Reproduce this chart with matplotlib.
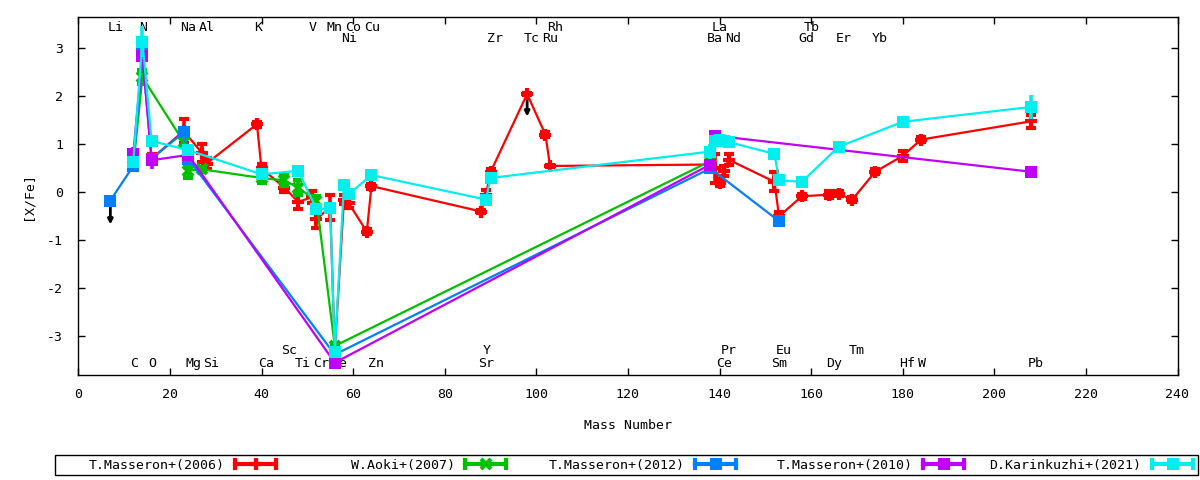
import matplotlib
matplotlib.use('Agg')
import matplotlib.pyplot as plt
from matplotlib.lines import Line2D
from matplotlib.patches import Rectangle
from matplotlib.legend_handler import HandlerBase
from matplotlib.container import ErrorbarContainer

plt.rcParams['font.family'] = ['DejaVu Sans Mono', 'DejaVu Sans']
plt.rcParams['font.size'] = 9.5
plt.rcParams['axes.unicode_minus'] = False

# ---------------- data ----------------
# T.Masseron+(2006)
red_A = [16, 23, 27, 28, 39, 40, 45, 48, 51, 52, 55, 56, 58, 59, 63, 64,
         88, 89, 90, 98, 102, 103, 138, 139, 140, 141, 142, 152, 153, 158,
         164, 166, 169, 174, 180, 184, 208]
red_V = [0.70, 1.28, 0.82, 0.60, 1.42, 0.50, 0.10, -0.20, -0.10, -0.55, -0.32, -3.30,
         -0.15, -0.22, -0.82, 0.13, -0.40, -0.05, 0.42, 2.05, 1.20, 0.55, 0.58,
         0.50, 0.20, 0.45, 0.68, 0.22, -0.50, -0.08, -0.05, -0.03, -0.15, 0.43,
         0.76, 1.10, 1.48]
red_E = [0.10, 0.25, 0.18, 0.12, 0.05, 0.10, 0.10, 0.15, 0.12, 0.20, 0.26, 0.05,
         0.10, 0.10, 0.05, 0.05, 0.03, 0.10, 0.06, 0.03, 0.05, 0.03, 0.05,
         0.30, 0.07, 0.10, 0.12, 0.20, 0.10, 0.05, 0.07, 0.05, 0.05, 0.05,
         0.10, 0.05, 0.13]

# W.Aoki+(2007)
green_A = [12, 14, 23, 24, 27, 40, 45, 48, 52, 56, 138]
green_V = [0.55, 2.40, 1.05, 0.45, 0.48, 0.30, 0.25, 0.10, -0.18, -3.20, 0.65]
green_E = [0.08, 0.15, 0.10, 0.15, 0.05, 0.10, 0.12, 0.15, 0.10, 0.05, 0.05]

# T.Masseron+(2012)
blue_A = [7, 12, 14, 16, 23, 24, 56, 138, 153]
blue_V = [-0.17, 0.55, 2.90, 0.70, 1.25, 0.70, -3.38, 0.50, -0.60]
blue_E = [0.00, 0.05, 0.15, 0.05, 0.05, 0.05, 0.05, 0.05, 0.05]

# T.Masseron+(2010)
purple_A = [12, 14, 16, 24, 56, 138, 139, 208]
purple_V = [0.80, 2.85, 0.67, 0.78, -3.55, 0.58, 1.18, 0.43]
purple_E = [0.15, 0.20, 0.18, 0.05, 0.05, 0.05, 0.05, 0.05]

# D.Karinkuzhi+(2021)
cyan_A = [12, 14, 16, 24, 40, 48, 52, 55, 56, 58, 59, 64, 89, 90,
          138, 139, 140, 141, 142, 152, 153, 158, 166, 180, 208]
cyan_V = [0.64, 3.14, 1.07, 0.88, 0.375, 0.45, -0.35, -0.33, -3.32, 0.15, -0.04, 0.36,
          -0.15, 0.30, 0.85, 1.08, 1.10, 1.08, 1.05, 0.80, 0.25, 0.22, 0.95, 1.47, 1.78]
cyan_E = [0.10, 0.32, 0.12, 0.10, 0.05, 0.05, 0.05, 0.05, 0.10, 0.05, 0.05, 0.05,
          0.12, 0.05, 0.15, 0.05, 0.05, 0.05, 0.05, 0.08, 0.10, 0.10, 0.05, 0.08, 0.25]

series_names = ['T.Masseron+(2006)', 'W.Aoki+(2007)', 'T.Masseron+(2012)',
                'T.Masseron+(2010)', 'D.Karinkuzhi+(2021)']

# upper limits (mass, value, arrow length)
limit_A = [7, 98]
limit_V = [-0.17, 2.05]
limit_len = [0.50, 0.47]

# element labels
top1_sym = ['Li', 'N', 'Na', 'Al', 'K', 'V', 'Mn', 'Co', 'Cu', 'Rh', 'La', 'Tb']
top1_A = [7, 14, 23, 27, 39, 51, 55, 59, 63, 103, 139, 159]
top2_sym = ['Ni', 'Zr', 'Tc', 'Ru', 'Ba', 'Nd', 'Gd', 'Er', 'Yb']
top2_A = [58, 90, 98, 102, 138, 142, 158, 166, 174]
bot2_sym = ['Sc', 'Y', 'Pr', 'Eu', 'Tm']
bot2_A = [45, 89, 141, 153, 169]
bot1_sym = ['C', 'O', 'Mg', 'Si', 'Ca', 'Ti', 'Cr', 'Fe', 'Zn', 'Sr', 'Ce', 'Sm',
            'Dy', 'Hf', 'W', 'Pb']
bot1_A = [12, 16, 24, 28, 40, 48, 52, 56, 64, 88, 140, 152, 164, 180, 184, 208]

x_ticks = [0, 20, 40, 60, 80, 100, 120, 140, 160, 180, 200, 220, 240]
y_ticks = [-3, -2, -1, 0, 1, 2, 3]

# ---------------- plot ----------------
W, H = 1200, 480
fig = plt.figure(figsize=(12, 4.8), dpi=100)
ax = fig.add_axes([0.06525, 0.21875, 0.916, 0.745])

styles = [
    dict(color='#ff0000', marker='+', ms=9, mew=3),
    dict(color='#00c000', marker='x', ms=7, mew=3),
    dict(color='#0080ff', marker='s', ms=8.5, mew=0),
    dict(color='#c000ff', marker='s', ms=8.5, mew=0),
    dict(color='#00eeee', marker='s', ms=8.5, mew=0),
]
data = [(red_A, red_V, red_E), (green_A, green_V, green_E), (blue_A, blue_V, blue_E),
        (purple_A, purple_V, purple_E), (cyan_A, cyan_V, cyan_E)]

containers = []
for i, ((A, V, E), st, name) in enumerate(zip(data, styles, series_names)):
    c = ax.errorbar(A, V, yerr=E, color=st['color'], lw=1.6, elinewidth=2.6,
                    capsize=3.5, capthick=2.6, marker=st['marker'], ms=st['ms'],
                    mew=st['mew'], mec=st['color'], mfc=st['color'],
                    label=name, zorder=3 + i)
    containers.append(c)

for A, V, L in zip(limit_A, limit_V, limit_len):
    ax.annotate('', xy=(A, V - L), xytext=(A, V),
                arrowprops=dict(arrowstyle='-|>', color='black', lw=2,
                                mutation_scale=7, shrinkA=0, shrinkB=0),
                zorder=2)

for syms, As, yv in [(top1_sym, top1_A, 3.43), (top2_sym, top2_A, 3.21),
                     (bot2_sym, bot2_A, -3.29), (bot1_sym, bot1_A, -3.57)]:
    for s, a in zip(syms, As):
        ax.text(a - 0.7, yv, s, ha='left', va='center', fontsize=9.5, zorder=1)

ax.set_xlim(0, 240)
ax.set_ylim(-3.806, 3.646)
ax.set_xticks(x_ticks)
ax.set_yticks(y_ticks)
ax.tick_params(direction='in', length=5, width=1, top=True, right=True,
               labelsize=9.5, pad=9)
ax.tick_params(axis='y', pad=11)
for sp in ax.spines.values():
    sp.set_linewidth(1)
ax.set_xlabel('Mass Number', fontsize=9.5, labelpad=13)
ax.set_ylabel('[X/Fe]', fontsize=9.5, labelpad=9)


class HandlerErr(HandlerBase):
    def create_artists(self, legend, orig_handle, xdescent, ydescent, width,
                       height, fontsize, trans):
        line = orig_handle.lines[0]
        col = line.get_color()
        y = (height - ydescent) / 2.0
        x0, x1 = -xdescent, width - xdescent
        h = height * 0.45
        arts = [Line2D([x0, x1], [y, y], color=col, lw=3),
                Line2D([x0, x0], [y - h, y + h], color=col, lw=3),
                Line2D([x1, x1], [y - h, y + h], color=col, lw=3),
                Line2D([(x0 + x1) / 2], [y], color=col, marker=line.get_marker(),
                       ms=line.get_markersize(), mew=line.get_markeredgewidth(),
                       mfc=col, mec=col, lw=0)]
        for a in arts:
            a.set_transform(trans)
        return arts


# legend box and entries (each entry right-aligned to its sample end)
box_x0, box_x1, box_y0, box_y1 = 55, 1198, 455, 475
fig.add_artist(Rectangle((box_x0 / W, 1 - box_y1 / H), (box_x1 - box_x0) / W,
                         (box_y1 - box_y0) / H, transform=fig.transFigure,
                         fill=False, edgecolor='black', lw=1))
entry_right = [276, 506, 736, 964, 1193]
y_mid = 1 - (box_y0 + box_y1) / 2 / H
for c, name, xr in zip(containers, series_names, entry_right):
    fig.legend(handles=[c], labels=[name], loc='center right',
               bbox_to_anchor=(xr / W, y_mid), markerfirst=False,
               frameon=False, fontsize=9.5, handlelength=3.1,
               handletextpad=0.8, borderaxespad=0, borderpad=0,
               handler_map={ErrorbarContainer: HandlerErr()})

fig.savefig('out.png', dpi=100)
